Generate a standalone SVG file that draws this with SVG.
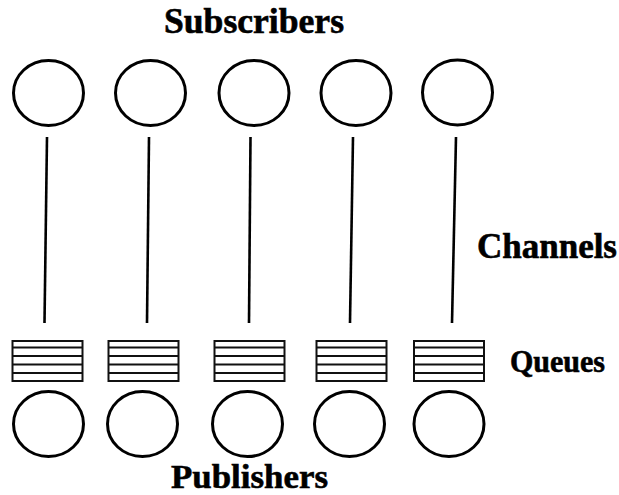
<svg xmlns="http://www.w3.org/2000/svg" width="619" height="495" viewBox="0 0 619 495">
  <style>
    .node { fill: none; stroke: #000; stroke-width: 3; }
    .queue { fill: #fff; stroke: #111; stroke-width: 2; }
    .slot { stroke: #111; stroke-width: 2; }
    .channel { stroke: #000; stroke-width: 2.6; fill: none; }
    .label { font-family: "Liberation Serif", "Times New Roman", serif; font-weight: bold; fill: #000; stroke: #000; stroke-width: 0.6; }
  </style>
  <defs>
    <g id="queue-shape">
      <rect class="queue" x="0" y="0" width="70" height="40"/>
      <line class="slot" x1="0" y1="6.5" x2="70" y2="6.5"/>
      <line class="slot" x1="0" y1="15" x2="70" y2="15"/>
      <line class="slot" x1="0" y1="23.5" x2="70" y2="23.5"/>
      <line class="slot" x1="0" y1="32" x2="70" y2="32"/>
    </g>
  </defs>
  <rect width="619" height="495" fill="#fff"/>

  <!-- labels -->
  <text class="label" x="254" y="33" font-size="35" text-anchor="middle" textLength="180" lengthAdjust="spacingAndGlyphs">Subscribers</text>
  <text class="label" x="477" y="258" font-size="35" textLength="140" lengthAdjust="spacingAndGlyphs">Channels</text>
  <text class="label" x="510" y="372" font-size="32" textLength="95" lengthAdjust="spacingAndGlyphs">Queues</text>
  <text class="label" x="171" y="488" font-size="34" textLength="157" lengthAdjust="spacingAndGlyphs">Publishers</text>

  <!-- subscribers -->
  <g id="sub1"><ellipse class="node" cx="48.5" cy="93" rx="35" ry="32.5"/></g>
  <g id="sub2"><ellipse class="node" cx="150.5" cy="93" rx="35" ry="32.5"/></g>
  <g id="sub3"><ellipse class="node" cx="254" cy="93" rx="35" ry="32.5"/></g>
  <g id="sub4"><ellipse class="node" cx="356" cy="93" rx="35" ry="32.5"/></g>
  <g id="sub5"><ellipse class="node" cx="457.5" cy="92.5" rx="35" ry="32.5"/></g>

  <!-- channels -->
  <g id="channels">
    <line class="channel" x1="47" y1="137" x2="44.5" y2="323"/>
    <line class="channel" x1="149" y1="137" x2="147" y2="323"/>
    <line class="channel" x1="250.5" y1="137" x2="249" y2="323"/>
    <line class="channel" x1="353" y1="137" x2="350" y2="323"/>
    <line class="channel" x1="456" y1="137" x2="452" y2="323"/>
  </g>

  <!-- queues -->
  <g id="queue1"><use href="#queue-shape" x="12.5" y="341"/></g>
  <g id="queue2"><use href="#queue-shape" x="108.5" y="341"/></g>
  <g id="queue3"><use href="#queue-shape" x="214.5" y="341"/></g>
  <g id="queue4"><use href="#queue-shape" x="316.5" y="341"/></g>
  <g id="queue5"><use href="#queue-shape" x="414" y="341"/></g>

  <!-- publishers -->
  <g id="pub1"><ellipse class="node" cx="48.5" cy="424" rx="35" ry="32.5"/></g>
  <g id="pub2"><ellipse class="node" cx="142.5" cy="424" rx="35" ry="32.5"/></g>
  <g id="pub3"><ellipse class="node" cx="247.5" cy="424" rx="35" ry="32.5"/></g>
  <g id="pub4"><ellipse class="node" cx="349.5" cy="424" rx="35" ry="32.5"/></g>
  <g id="pub5"><ellipse class="node" cx="449" cy="424" rx="35" ry="32.5"/></g>
</svg>
